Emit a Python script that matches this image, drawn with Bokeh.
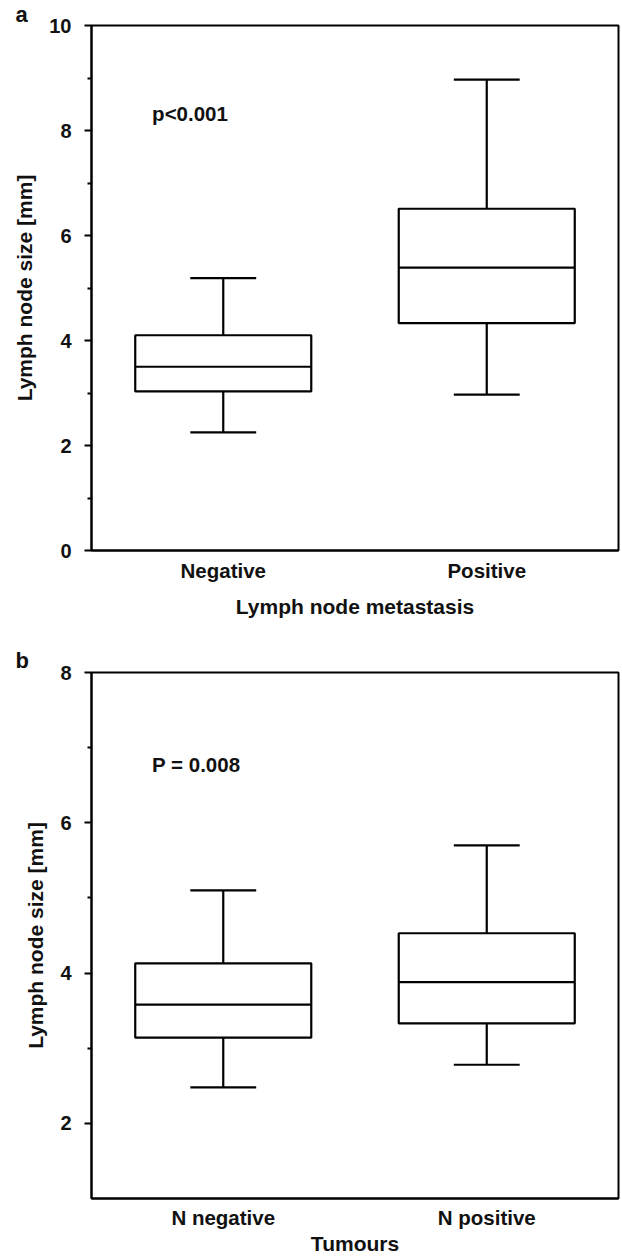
from bokeh.plotting import figure
from bokeh.models import Range1d, FixedTicker, Label, ColumnDataSource, Title
from bokeh.layouts import column
from bokeh.embed import file_html
from bokeh.resources import INLINE

# ---- data ----
cats_a = ["Negative", "Positive"]
lower_a = [2.25, 2.97]
q1_a = [3.03, 4.33]
med_a = [3.50, 5.39]
q3_a = [4.10, 6.51]
upper_a = [5.19, 8.97]

cats_b = ["N negative", "N positive"]
lower_b = [2.48, 2.78]
q1_b = [3.14, 3.33]
med_b = [3.58, 3.88]
q3_b = [4.13, 4.53]
upper_b = [5.10, 5.70]

yticks_a = [0, 2, 4, 6, 8, 10]
yminor_a = [1, 3, 5, 7, 9]
yticks_b = [2, 4, 6, 8]
yminor_b = [3, 5, 7]

FONT = "Liberation Sans"
TXT = "#111111"


def boxpanel(letter, cats, lower, q1, med, q3, upper, ylo, yhi, majors, minors,
             xlabel, ptext, py, height, btop, bbot, xlab_standoff, xtitle_standoff,
             title_standoff):
    xs = [i + 1 for i in range(len(cats))]
    bw = 0.668
    cw = 0.25
    src = ColumnDataSource(dict(
        x=xs, lower=lower, q1=q1, med=med, q3=q3, upper=upper,
        bl=[x - bw / 2 for x in xs], br=[x + bw / 2 for x in xs],
        cl=[x - cw / 2 for x in xs], cr=[x + cw / 2 for x in xs],
    ))
    p = figure(width=620, height=height, x_range=Range1d(0.5, 2.5),
               y_range=Range1d(ylo, yhi), output_backend="svg",
               toolbar_location=None, min_border_left=91, min_border_right=2,
               min_border_top=btop, min_border_bottom=bbot)
    p.title = Title(text=letter, text_font=FONT, text_font_size="22px",
                    text_font_style="bold", text_color=TXT, align="left",
                    offset=-76, standoff=title_standoff)
    p.grid.visible = False
    p.background_fill_color = "white"
    p.border_fill_color = "white"
    p.outline_line_color = "black"
    p.outline_line_width = 2
    p.outline_line_alpha = 1.0

    xa = p.xaxis[0]
    xa.ticker = FixedTicker(ticks=xs)
    xa.major_label_overrides = {x: c for x, c in zip(xs, cats)}
    xa.major_tick_out = 0
    xa.major_tick_in = 0
    xa.minor_tick_out = 0
    xa.minor_tick_in = 0
    xa.axis_line_width = 2
    xa.axis_line_color = "black"
    xa.major_label_standoff = xlab_standoff
    xa.major_label_text_font = FONT
    xa.major_label_text_font_size = "20.5px"
    xa.major_label_text_font_style = "bold"
    xa.major_label_text_color = TXT
    xa.axis_label = xlabel
    xa.axis_label_standoff = xtitle_standoff
    xa.axis_label_text_font = FONT
    xa.axis_label_text_font_size = "21px"
    xa.axis_label_text_font_style = "bold"
    xa.axis_label_text_color = TXT

    ya = p.yaxis[0]
    ya.ticker = FixedTicker(ticks=majors, minor_ticks=minors)
    ya.major_tick_out = 7
    ya.major_tick_in = 0
    ya.minor_tick_out = 4
    ya.minor_tick_in = 0
    ya.major_tick_line_width = 2
    ya.minor_tick_line_width = 2
    ya.axis_line_width = 2
    ya.axis_line_color = "black"
    ya.major_label_standoff = 13
    ya.major_label_text_font = FONT
    ya.major_label_text_font_size = "20px"
    ya.major_label_text_font_style = "bold"
    ya.major_label_text_color = TXT
    ya.axis_label = "Lymph node size [mm]"
    ya.axis_label_standoff = 10
    ya.axis_label_text_font = FONT
    ya.axis_label_text_font_size = "21px"
    ya.axis_label_text_font_style = "bold"
    ya.axis_label_text_color = TXT

    lw = 2.2
    # whiskers
    p.segment(x0="x", y0="q3", x1="x", y1="upper", source=src, line_color="black", line_width=lw)
    p.segment(x0="x", y0="q1", x1="x", y1="lower", source=src, line_color="black", line_width=lw)
    # caps
    p.segment(x0="cl", y0="upper", x1="cr", y1="upper", source=src, line_color="black", line_width=lw)
    p.segment(x0="cl", y0="lower", x1="cr", y1="lower", source=src, line_color="black", line_width=lw)
    # boxes
    p.vbar(x="x", width=bw, bottom="q1", top="q3", source=src,
           fill_color="white", line_color="black", line_width=lw)
    # medians
    p.segment(x0="bl", y0="med", x1="br", y1="med", source=src, line_color="black", line_width=lw)

    p.add_layout(Label(x=0.73, y=py, text=ptext, text_font=FONT, text_font_size="20.5px",
                       text_font_style="bold", text_color=TXT, text_baseline="middle"))
    return p


pa = boxpanel("a", cats_a, lower_a, q1_a, med_a, q3_a, upper_a, 0, 10,
              yticks_a, yminor_a, "Lymph node metastasis", "p<0.001", 8.32,
              height=630, btop=25, bbot=630 - 25 - 525, xlab_standoff=8,
              xtitle_standoff=10, title_standoff=-3)
pb = boxpanel("b", cats_b, lower_b, q1_b, med_b, q3_b, upper_b, 1, 8,
              yticks_b, yminor_b, "Tumours", "P = 0.008", 6.78,
              height=628, btop=42, bbot=628 - 42 - 526, xlab_standoff=7,
              xtitle_standoff=0, title_standoff=0)

layout = column(pa, pb, spacing=0)
open("out.html", "w").write(file_html(layout, INLINE))
